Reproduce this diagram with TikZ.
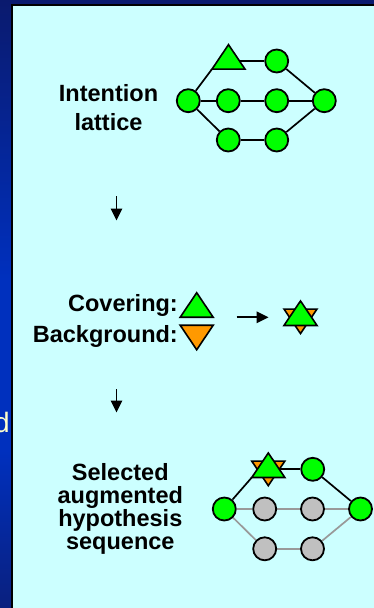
\documentclass[tikz,border=0pt]{standalone}
\usepackage{fontspec}
\setmainfont{Liberation Sans}
\usetikzlibrary{arrows.meta}

\definecolor{panelcyan}{HTML}{CCFFFF}
\definecolor{nodegreen}{HTML}{00FF00}
\definecolor{tiporange}{HTML}{FF9900}
\definecolor{offgray}{HTML}{C0C0C0}
\definecolor{offline}{HTML}{999999}
\definecolor{barnavy}{HTML}{0A1A6E}
\definecolor{barblue}{HTML}{0030BE}
\definecolor{barlow}{HTML}{0A207E}
\definecolor{cream}{HTML}{FFFFCC}

\pgfdeclareverticalshading{sidebar}{100bp}{%
  color(0bp)=(barlow); color(25bp)=(barlow); color(38bp)=(barblue);
  color(52bp)=(barblue); color(75bp)=(barnavy); color(100bp)=(barnavy)}

\pgfdeclarelayer{back}
\pgfdeclarelayer{edges}
\pgfsetlayers{back,edges,main}

% triangles are drawn inside invisible rectangular nodes
\newcommand{\drawUpTri}[2]{%
  \draw[tri line, fill=#2] (#1.south west) -- (#1.south east) -- (#1.north) -- cycle;}
\newcommand{\drawDownTri}[2]{%
  \draw[tri line, fill=#2] (#1.north west) -- (#1.north east) -- (#1.south) -- cycle;}

\tikzset{
  lnode/.style={circle, draw=black, line width=1.8pt, fill=nodegreen,
    minimum size=23pt, inner sep=0pt},
  gnode/.style={lnode, fill=offgray},
  tribox/.style={rectangle, inner sep=0pt, outer sep=0pt,
    minimum width=33pt, minimum height=24.5pt},
  tri line/.style={draw=black, line width=1.6pt, line join=miter},
  edge on/.style={draw=black, line width=1.7pt},
  edge off/.style={draw=offline, line width=1.7pt},
  flow/.style={line width=1.7pt, -{Triangle[width=11.5pt,length=12pt]}},
  label/.style={font=\bfseries\fontsize{23.5}{29}\selectfont, inner sep=0pt,
    align=center},
}

\begin{document}
\begin{tikzpicture}[x=1pt, y=-1pt]
\useasboundingbox (0,0) rectangle (374,608);

% slide backdrop and content panel
\begin{pgfonlayer}{back}
  \shade[shading=sidebar] (0,0) rectangle (374,608);
  \node[anchor=base east, inner sep=0pt, text=cream,
    font=\fontsize{28}{32}\selectfont] (cut) at (9.8,432) {d};
  \fill[panelcyan] (12.2,5) rectangle (380,620);
  \draw[black, line width=2pt] (12.2,620) -- (12.2,5) -- (380,5);
\end{pgfonlayer}

% ---------- intention lattice ----------
% a multi-line node sits on the baseline of its last line
\node[label, anchor=base] (intent) at (108.5,130.7) {Intention\\lattice};

\node[lnode] (a-l)  at (188.3,100.7) {};
\node[lnode] (a-m1) at (228.3,100.7) {};
\node[lnode] (a-m2) at (276.7,100.7) {};
\node[lnode] (a-r)  at (324.3,100.7) {};
\node[lnode] (a-tr) at (276.7,61) {};
\node[lnode] (a-b1) at (228.3,140) {};
\node[lnode] (a-b2) at (276.7,140) {};
\node[tribox] (a-t) at (228.5,56.9) {};
\drawUpTri{a-t}{nodegreen}
\coordinate (a-tside) at (240,61);

\begin{pgfonlayer}{edges}
  \draw[edge on] (a-l) -- (a-t.south west);
  \draw[edge on] (a-tside) -- (a-tr);
  \draw[edge on] (a-tr) -- (a-r);
  \draw[edge on] (a-l) -- (a-m1);
  \draw[edge on] (a-m1) -- (a-m2);
  \draw[edge on] (a-m2) -- (a-r);
  \draw[edge on] (a-l) -- (a-b1);
  \draw[edge on] (a-b1) -- (a-b2);
  \draw[edge on] (a-b2) -- (a-r);
\end{pgfonlayer}

% ---------- first step arrow ----------
\coordinate (s1-top) at (116.5,196);
\coordinate (s1-bot) at (116.5,220.5);
\draw[flow] (s1-top) -- (s1-bot);

% ---------- covering / background ----------
\node[label, anchor=base east] (cov) at (178,311) {Covering:};
\node[label, anchor=base east] (bkg) at (178,342.7) {Background:};
\node[tribox] (cov-t) at (196.7,305) {};
\node[tribox] (bkg-t) at (196.7,337.5) {};
\drawUpTri{cov-t}{nodegreen}
\drawDownTri{bkg-t}{tiporange}

\coordinate (h-from) at (236.7,317.3);
\coordinate (h-to) at (268.5,317.3);
\draw[flow] (h-from) -- (h-to);

\node[tribox] (star-dn) at (300.5,321.3) {};
\node[tribox] (star-up) at (300.5,313.2) {};
\drawDownTri{star-dn}{tiporange}
\drawUpTri{star-up}{nodegreen}

% ---------- second step arrow ----------
\coordinate (s2-top) at (116.5,389);
\coordinate (s2-bot) at (116.5,412.5);
\draw[flow] (s2-top) -- (s2-bot);

% ---------- selected sequence ----------
\node[label, anchor=base, font=\bfseries\fontsize{23.5}{22.7}\selectfont]
  (sel) at (120.3,549) {Selected\\augmented\\hypothesis\\sequence};

\node[lnode] (c-l)  at (224.3,509) {};
\node[gnode] (c-m1) at (264.7,509) {};
\node[gnode] (c-m2) at (312.5,509) {};
\node[lnode] (c-r)  at (360.5,509) {};
\node[lnode] (c-tr) at (312.7,469.3) {};
\node[gnode] (c-b1) at (264.7,548.8) {};
\node[gnode] (c-b2) at (312.5,548.8) {};
\node[tribox] (c-dn) at (268.3,473.4) {};
\node[tribox] (c-up) at (268.3,465.2) {};
\drawDownTri{c-dn}{tiporange}
\drawUpTri{c-up}{nodegreen}
\coordinate (c-side) at (280,469.3);

\begin{pgfonlayer}{edges}
  \draw[edge on] (c-l) -- (c-up.south west);
  \draw[edge on] (c-side) -- (c-tr);
  \draw[edge on] (c-tr) -- (c-r);
  \draw[edge off] (c-l) -- (c-m1);
  \draw[edge off] (c-m1) -- (c-m2);
  \draw[edge off] (c-m2) -- (c-r);
  \draw[edge off] (c-l) -- (c-b1);
  \draw[edge off] (c-b1) -- (c-b2);
  \draw[edge off] (c-b2) -- (c-r);
\end{pgfonlayer}
\end{tikzpicture}
\end{document}
